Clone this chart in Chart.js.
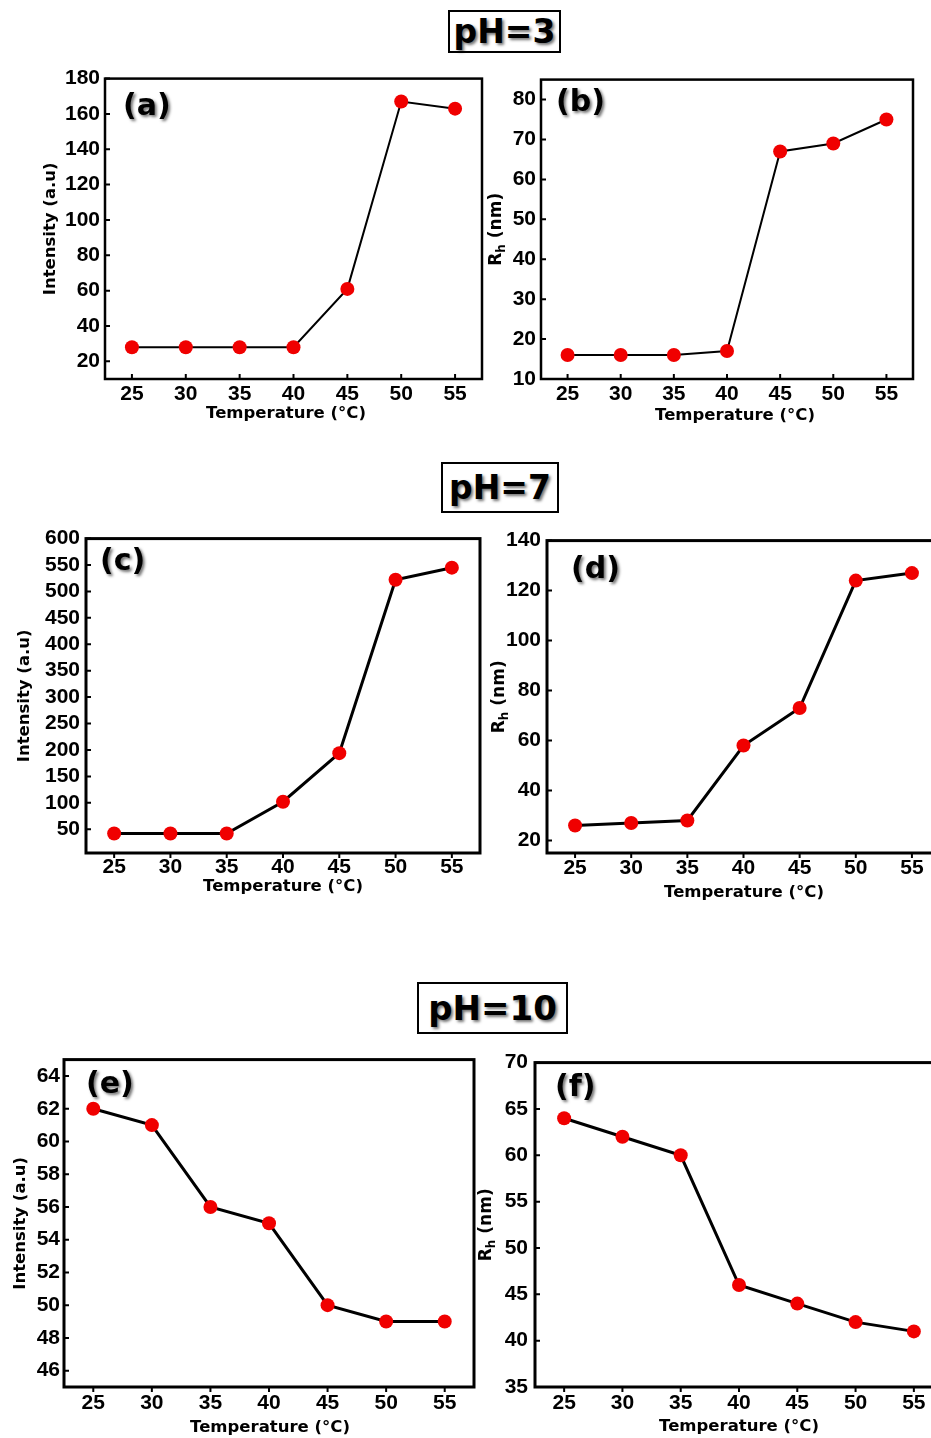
<!DOCTYPE html>
<html>
<head>
<meta charset="utf-8">
<script src="https://cdn.jsdelivr.net/npm/chart.js@4.4.1/dist/chart.umd.min.js"></script>
<style>
  html, body { margin:0; padding:0; background:#fff; width:931px; height:1438px; overflow:hidden; position:relative; }
  .holder { position:absolute; }
  .ph { position:absolute; border:2px solid #000; box-sizing:border-box; background:#fff;
        font-family:"DejaVu Sans", Verdana, sans-serif; font-weight:bold; color:#000;
        display:flex; align-items:center; justify-content:center;
        text-shadow: 2px 2px 3px rgba(0,0,0,0.55); }
</style>
</head>
<body>
<div class="ph" style="left:448px; top:10px; width:113px; height:43px; font-size:33px;">pH=3</div>
<div class="ph" style="left:441px; top:462px; width:118px; height:51px; font-size:33px;">pH=7</div>
<div class="ph" style="left:417px; top:982px; width:151px; height:52px; font-size:34px;">pH=10</div>

<script>
// ---------------- data ----------------
const temperatures = [25, 30, 35, 40, 45, 50, 55];

const intensityPH3 = [28, 28, 28, 28, 61, 167, 163];
const rhPH3        = [16, 16, 16, 17, 67, 69, 75];
const intensityPH7 = [42, 42, 42, 102, 194, 522, 545];
const rhPH7        = [26, 27, 28, 58, 73, 124, 127];
const intensityPH10 = [62, 61, 56, 55, 50, 49, 49];
const rhPH10        = [64, 62, 60, 46, 44, 42, 41];

const ticksA = [20, 40, 60, 80, 100, 120, 140, 160, 180];
const ticksB = [10, 20, 30, 40, 50, 60, 70, 80];
const ticksC = [50, 100, 150, 200, 250, 300, 350, 400, 450, 500, 550, 600];
const ticksD = [20, 40, 60, 80, 100, 120, 140];
const ticksE = [46, 48, 50, 52, 54, 56, 58, 60, 62, 64];
const ticksF = [35, 40, 45, 50, 55, 60, 65, 70];

const xTitle = 'Temperature (°C)';
const intensityTitle = 'Intensity (a.u)';

// ---------------- layout ----------------
const LEFT = 80, TOP = 15, RIGHT = 12, BOTTOM = 62;

const panels = [
  { label:'(a)', values:intensityPH3, yTicks:ticksA, yMin:10, yMax:180, rh:false,
    box:[105, 76, 482, 379], lw:2, frame:2.5, xIn:true, gap:5, xdy:15,
    yTitleOff:54, xTitleX:286, xTitleDy:35, lab:[18, 29] },
  { label:'(b)', values:rhPH3, yTicks:ticksB, yMin:10, yMax:85, rh:true,
    box:[541, 77, 913, 379], lw:2, frame:2.5, xIn:true, gap:5, xdy:15,
    yTitleOff:44, xTitleX:735, xTitleDy:37, lab:[15, 24] },
  { label:'(c)', values:intensityPH7, yTicks:ticksC, yMin:5, yMax:600, rh:false,
    box:[86, 535, 480, 853], lw:3, frame:3, xIn:false, gap:6, xdy:14,
    yTitleOff:61, xTitleX:283, xTitleDy:34, lab:[14, 24] },
  { label:'(d)', values:rhPH7, yTicks:ticksD, yMin:15, yMax:140, rh:true,
    box:[547, 537, 940, 853], lw:3, frame:3, xIn:false, gap:6, xdy:15,
    yTitleOff:47, xTitleX:744, xTitleDy:40, lab:[24, 30] },
  { label:'(e)', values:intensityPH10, yTicks:ticksE, yMin:45, yMax:65, rh:false,
    box:[64, 1058, 474, 1387], lw:3, frame:3, xIn:false, gap:4, xdy:16,
    yTitleOff:43, xTitleX:270, xTitleDy:41, lab:[22, 26] },
  { label:'(f)', values:rhPH10, yTicks:ticksF, yMin:35, yMax:70, rh:true,
    box:[535, 1058, 943, 1387], lw:3, frame:3, xIn:false, gap:7, xdy:16,
    yTitleOff:48, xTitleX:739, xTitleDy:40, lab:[20, 26] }
];

const decorPlugin = {
  id: 'decor',
  beforeDatasetsDraw(chart) {
    const p = chart.options.plugins.decor;
    const { ctx, chartArea: a, scales: { x, y } } = chart;
    ctx.save();
    ctx.strokeStyle = '#000';
    ctx.lineWidth = p.frame;
    ctx.strokeRect(a.left, a.top, a.right - a.left, a.bottom - a.top);
    ctx.lineWidth = 2;
    ctx.beginPath();
    y.ticks.forEach(t => {
      const py = y.getPixelForValue(t.value);
      ctx.moveTo(a.left, py); ctx.lineTo(a.left + 5, py);
    });
    x.ticks.forEach(t => {
      const px = x.getPixelForValue(t.value);
      ctx.moveTo(px, a.bottom); ctx.lineTo(px, a.bottom + (p.xIn ? -5 : 5));
    });
    ctx.stroke();
    ctx.restore();
  },
  afterDraw(chart) {
    const p = chart.options.plugins.decor;
    const { ctx, chartArea: a } = chart;
    ctx.save();
    ctx.fillStyle = '#000';
    // y title
    const cy = (a.top + a.bottom) / 2;
    ctx.translate(a.left - p.yTitleOff, cy);
    ctx.rotate(-Math.PI / 2);
    ctx.textBaseline = 'middle';
    ctx.textAlign = 'left';
    if (p.rh) {
      const big = 'bold 17px "DejaVu Sans"', small = 'bold 12px "DejaVu Sans"';
      ctx.font = big; const wR = ctx.measureText('R').width; const wT = ctx.measureText(' (nm)').width;
      ctx.font = small; const wh = ctx.measureText('h').width;
      let sx = -(wR + wh + wT) / 2;
      ctx.font = big; ctx.fillText('R', sx, 0); sx += wR;
      ctx.font = small; ctx.fillText('h', sx, 5); sx += wh;
      ctx.font = big; ctx.fillText(' (nm)', sx, 0);
    } else {
      ctx.font = 'bold 16.5px "DejaVu Sans"';
      ctx.textAlign = 'center';
      ctx.fillText(p.yTitle, 0, 0);
    }
    ctx.restore();
    // x title
    ctx.save();
    ctx.fillStyle = '#000';
    ctx.font = 'bold 16.5px "DejaVu Sans"';
    ctx.textAlign = 'center';
    ctx.textBaseline = 'middle';
    ctx.fillText(p.xTitle, p.xTitleX, a.bottom + p.xTitleDy);
    // panel label
    ctx.font = 'bold 30px "DejaVu Sans"';
    ctx.textAlign = 'left';
    ctx.shadowColor = 'rgba(0,0,0,0.55)';
    ctx.shadowBlur = 3; ctx.shadowOffsetX = 2; ctx.shadowOffsetY = 2;
    ctx.fillText(p.label, a.left + p.lab[0], a.top + p.lab[1]);
    ctx.restore();
  }
};

panels.forEach((pn, i) => {
  const [l, t, r, b] = pn.box;
  const w = LEFT + (r - l) + RIGHT;
  const h = TOP + (b - t) + BOTTOM;
  const holder = document.createElement('div');
  holder.className = 'holder';
  holder.style.left = (l - LEFT) + 'px';
  holder.style.top = (t - TOP) + 'px';
  holder.style.width = w + 'px';
  holder.style.height = h + 'px';
  const cv = document.createElement('canvas');
  cv.width = w; cv.height = h;
  cv.style.width = w + 'px'; cv.style.height = h + 'px';
  holder.appendChild(cv);
  document.body.appendChild(holder);

  new Chart(cv, {
    type: 'line',
    data: {
      datasets: [{
        data: temperatures.map((tv, k) => ({ x: tv, y: pn.values[k] })),
        borderColor: '#000',
        borderWidth: pn.lw,
        pointRadius: 7,
        pointBackgroundColor: '#f00000',
        pointBorderWidth: 0,
        tension: 0,
        clip: false
      }]
    },
    options: {
      responsive: false,
      animation: false,
      devicePixelRatio: 1,
      layout: { padding: { top: TOP, right: RIGHT, left: 0, bottom: 0 } },
      plugins: {
        legend: { display: false },
        tooltip: { enabled: false },
        decor: {
          frame: pn.frame, xIn: pn.xIn, rh: pn.rh, yTitle: intensityTitle,
          yTitleOff: pn.yTitleOff, xTitle: xTitle, xTitleX: pn.xTitleX - (l - LEFT),
          xTitleDy: pn.xTitleDy, label: pn.label, lab: pn.lab
        }
      },
      scales: {
        x: {
          type: 'linear', min: 22.5, max: 57.5,
          afterFit: s => { s.height = BOTTOM; },
          afterBuildTicks: s => { s.ticks = temperatures.map(v => ({ value: v })); },
          grid: { display: false, drawTicks: false },
          border: { display: false },
          ticks: { color: '#000', font: { family: '"Liberation Sans", Arial', weight: 'bold', size: 21 },
                   padding: pn.xdy - 12, maxRotation: 0, autoSkip: false }
        },
        y: {
          type: 'linear', min: pn.yMin, max: pn.yMax,
          afterFit: s => { s.width = LEFT; },
          afterBuildTicks: s => { s.ticks = pn.yTicks.map(v => ({ value: v })); },
          grid: { display: false, drawTicks: false },
          border: { display: false },
          ticks: { color: '#000', font: { family: '"Liberation Sans", Arial', weight: 'bold', size: 21 },
                   padding: pn.gap, autoSkip: false }
        }
      }
    },
    plugins: [decorPlugin]
  });
});
</script>
</body>
</html>
